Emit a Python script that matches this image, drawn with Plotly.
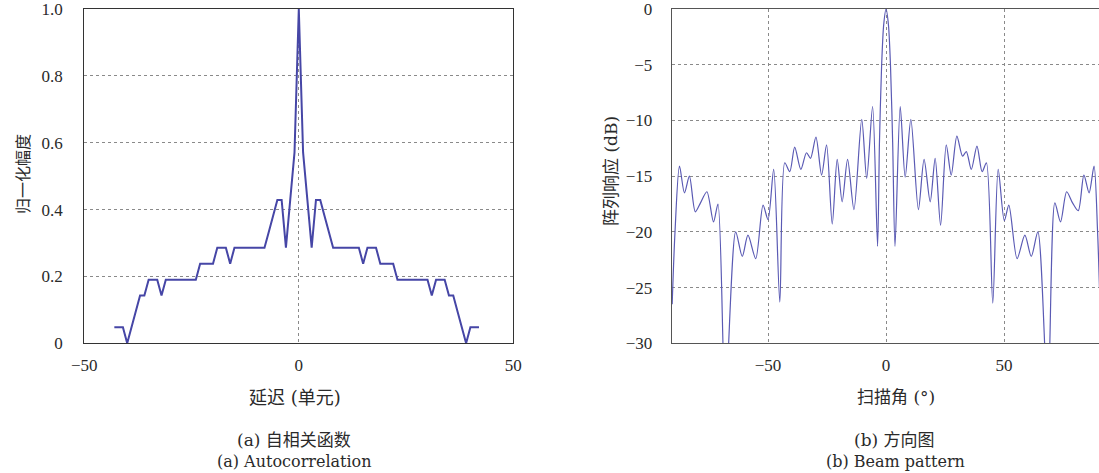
import plotly.graph_objects as go

# ---------------- data: (a) autocorrelation ----------------
lags = list(range(-43, 44))
acorr = [
    0.048, 0.048, 0.048, 0.000, 0.048, 0.095, 0.143, 0.143, 0.190, 0.190,   # -43..-34
    0.190, 0.143, 0.190, 0.190, 0.190, 0.190, 0.190, 0.190, 0.190, 0.190,   # -33..-24
    0.238, 0.238, 0.238, 0.238, 0.286, 0.286, 0.286, 0.238, 0.286, 0.286,   # -23..-14
    0.286, 0.286, 0.286, 0.286, 0.286, 0.286, 0.333, 0.381, 0.429, 0.429,   # -13..-4
    0.286, 0.429, 0.571, 1.000, 0.571, 0.429, 0.286, 0.429, 0.429, 0.381,   # -3..6
    0.333, 0.286, 0.286, 0.286, 0.286, 0.286, 0.286, 0.286, 0.238, 0.286,   # 7..17
    0.286, 0.286, 0.238, 0.238, 0.238, 0.238, 0.190, 0.190, 0.190, 0.190,   # 18..27
    0.190, 0.190, 0.190, 0.190, 0.143, 0.190, 0.190, 0.190, 0.143, 0.143,   # 28..37
    0.095, 0.048, 0.000, 0.048, 0.048, 0.048,                                # 38..43
]

# ---------------- data: (b) beam pattern ----------------
angles = [
    -90.6, -89.4, -87.5, -85.4, -83.3, -80.8, -78.6, -75.9, -73.1, -71.2,
    -68.1, -63.7, -60.9, -58.5, -55.2, -52.1, -50.0, -47.6, -45.0, -42.9,
    -40.8, -38.7, -36.1, -33.7, -32.0, -29.7, -27.3, -25.2, -22.8, -20.7,
    -18.6, -16.3, -13.6, -10.3, -8.2, -5.7, -3.6, -2.8, -1.9, -1.0,
    0.0,
    1.0, 1.9, 2.8, 3.8, 6.0, 8.1, 10.5, 13.7, 16.1, 18.7,
    20.8, 23.1, 25.5, 27.6, 30.0, 32.4, 34.0, 36.1, 38.5, 40.7,
    42.5, 45.2, 47.5, 50.1, 52.0, 55.5, 58.8, 61.5, 64.3, 68.5,
    71.5, 73.9, 76.5, 79.0, 81.4, 83.8, 86.0, 88.1, 89.6, 90.4,
]
beam_db = [
    -26.5, -20.0, -14.1, -16.5, -15.0, -18.2, -17.4, -16.4, -19.1, -17.5,
    -35.0, -20.0, -22.2, -20.3, -22.4, -17.6, -18.9, -14.4, -26.3, -13.8,
    -14.6, -12.4, -14.4, -12.9, -13.4, -11.5, -14.9, -12.2, -19.3, -13.5,
    -17.3, -13.5, -18.0, -9.9, -15.2, -8.75, -21.3, -12.0, -5.2, -1.4,
    0.0,
    -1.4, -5.2, -12.0, -21.3, -8.75, -15.1, -9.9, -18.0, -13.5, -17.3,
    -13.4, -19.4, -12.2, -14.9, -11.4, -13.2, -12.8, -14.4, -12.3, -14.6,
    -13.8, -26.4, -14.4, -19.0, -17.6, -22.4, -20.3, -22.2, -20.0, -35.0,
    -17.4, -19.1, -16.4, -17.4, -18.1, -14.9, -16.5, -14.1, -20.0, -25.0,
]

left_yticks = [0, 0.2, 0.4, 0.6, 0.8, 1.0]
left_yticktext = ["0", "0.2", "0.4", "0.6", "0.8", "1.0"]
left_xticks = [-50, 0, 50]
left_xticktext = ["\u221250", "0", "50"]
right_yticks = [-30, -25, -20, -15, -10, -5, 0]
right_yticktext = ["\u221230", "\u221225", "\u221220", "\u221215", "\u221210", "\u22125", "0"]
right_xticks = [-50, 0, 50]
right_xticktext = ["\u221250", "0", "50"]

W, H = 1099, 473
TICK_FONT = "Liberation Serif, DejaVu Serif, serif"
TEXT_FONT = "DejaVu Serif, Noto Sans CJK SC, serif"
TXT = "#2a2a2a"

def px(x):
    return x / W

def py(y):
    return 1 - y / H

fig = go.Figure()
fig.add_trace(go.Scatter(x=lags, y=acorr, mode="lines", xaxis="x", yaxis="y",
                         line=dict(color="#4646a6", width=2), showlegend=False))
fig.add_trace(go.Scatter(x=angles, y=beam_db, mode="lines", xaxis="x2", yaxis="y2",
                         line=dict(color="#5a5ab4", width=1.2, shape="spline", smoothing=0.8),
                         showlegend=False))

grid = dict(showgrid=True, gridcolor="#8a8a8a", gridwidth=1, griddash="dot",
            zeroline=False, ticks="", automargin=False, ticklabeloverflow="allow",
            tickfont=dict(family=TICK_FONT, size=17, color=TXT))

ydom = [py(343.3), py(9.0)]

fig.update_layout(
    width=W, height=H, template="none",
    font=dict(family=TICK_FONT, color=TXT),
    paper_bgcolor="white", plot_bgcolor="white",
    margin=dict(l=0, r=0, t=0, b=0),
    xaxis=dict(domain=[px(84.3), px(513.3)], range=[-50, 50], anchor="y",
               tickvals=left_xticks, ticktext=left_xticktext,
               showline=True, linecolor="#333", linewidth=1.2, mirror=True,
               ticklabelstandoff=6, **grid),
    yaxis=dict(domain=ydom, range=[0, 1], anchor="x",
               tickvals=left_yticks, ticktext=left_yticktext,
               showline=True, linecolor="#333", linewidth=1.2, mirror=True,
               ticklabelstandoff=17, **grid),
    xaxis2=dict(domain=[px(671.7), 1.0], range=[-90.8, 90.2], anchor="y2",
                tickvals=right_xticks, ticktext=right_xticktext,
                showline=True, linecolor="#555", linewidth=1, mirror=True,
                ticklabelstandoff=6, **grid),
    yaxis2=dict(domain=ydom, range=[-30, 0], anchor="x2",
                tickvals=right_yticks, ticktext=right_yticktext,
                showline=True, linecolor="#555", linewidth=1, mirror=False,
                ticklabelstandoff=15, **grid),
)

ann = [
    dict(text="归一化幅度", x=px(24), y=py(174), textangle=-90, size=16),
    dict(text="阵列响应 (dB)", x=px(611), y=py(171), textangle=-90, size=17),
    dict(text="延迟 (单元)", x=px(295), y=py(397), textangle=0, size=18),
    dict(text="扫描角 (°)", x=px(896), y=py(397), textangle=0, size=17),
    dict(text="(a) 自相关函数", x=px(294), y=py(440), textangle=0, size=17),
    dict(text="(a) Autocorrelation", x=px(294), y=py(461.5), textangle=0, size=16),
    dict(text="(b) 方向图", x=px(894.5), y=py(440), textangle=0, size=17),
    dict(text="(b) Beam pattern", x=px(895), y=py(461.5), textangle=0, size=16),
]
for a in ann:
    fig.add_annotation(text=a["text"], x=a["x"], y=a["y"], xref="paper", yref="paper",
                       xanchor="center", yanchor="middle", showarrow=False,
                       textangle=a["textangle"],
                       font=dict(family=TEXT_FONT, size=a["size"], color=TXT))

fig.write_html("out.html", config={"displayModeBar": False},
               post_script="document.body.style.margin='0';document.body.style.padding='0';")
